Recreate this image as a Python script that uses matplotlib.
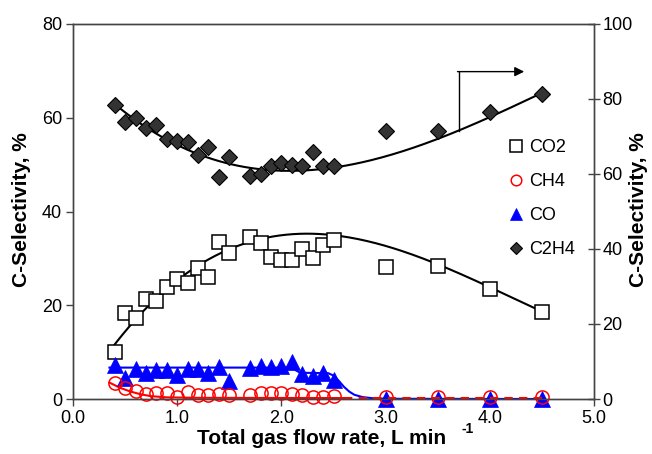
import numpy as np
import matplotlib
matplotlib.use("Agg")
import matplotlib.pyplot as plt

plt.rcParams['font.family'] = ['Liberation Sans', 'DejaVu Sans']

# ---------------- data ----------------
flow = [0.40, 0.50, 0.60, 0.70, 0.80, 0.90, 1.00, 1.10, 1.20, 1.30, 1.40, 1.50,
        1.70, 1.80, 1.90, 2.00, 2.10, 2.20, 2.30, 2.40, 2.50, 3.00, 3.50, 4.00, 4.50]

co2 = [10.1, 18.3, 17.2, 21.4, 21.0, 24.0, 25.6, 24.8, 27.9, 26.1, 33.5, 31.1,
       34.5, 33.2, 30.3, 29.6, 29.6, 32.0, 30.0, 32.8, 33.9, 28.2, 28.4, 23.4, 18.6]

ch4 = [3.4, 2.3, 1.8, 1.1, 1.2, 1.3, 0.4, 1.5, 0.85, 0.85, 1.0, 0.85,
       0.85, 1.2, 1.35, 1.35, 1.05, 0.85, 0.5, 0.5, 0.6, 0.4, 0.4, 0.4, 0.4]

co = [7.2, 4.4, 6.4, 5.5, 6.2, 6.2, 5.1, 6.5, 6.5, 5.5, 6.9, 3.8,
      6.7, 7.0, 6.8, 7.0, 7.9, 5.4, 5.0, 5.6, 4.1, 0.0, 0.0, 0.0, 0.0]

c2h4 = [78.4, 73.9, 74.9, 72.2, 73.1, 69.3, 68.9, 68.6, 65.1, 67.3, 59.1, 64.5,
        59.5, 60.0, 62.1, 63.0, 62.4, 62.1, 65.9, 62.1, 62.1, 71.5, 71.5, 76.6, 81.3]

# trend curves (smoothed with a cubic below)
co2_curve_x = [0.355, 1.00, 1.50, 2.18, 2.60, 3.00, 3.50, 4.00, 4.51]
co2_curve_y = [10.8, 24.3, 31.8, 36.4, 35.0, 32.1, 28.4, 23.7, 18.8]

c2h4_curve_x = [0.42, 1.00, 1.50, 2.00, 2.50, 3.00, 3.50, 4.00, 4.50]
c2h4_curve_y = [77.5, 69.1, 63.3, 59.3, 61.2, 65.2, 69.8, 75.4, 81.3]

co_fit_x = [0.35, 2.10, 2.14, 2.18, 2.45, 2.50, 2.55, 2.60, 2.65, 2.70, 2.78, 2.88, 3.00, 4.50]
co_fit_y = [6.7, 6.7, 6.1, 5.6, 5.5, 5.0, 3.9, 2.6, 1.6, 0.9, 0.4, 0.15, 0.05, 0.0]

ch4_fit_x = [0.35, 0.45, 0.55, 0.65, 0.75, 0.90, 1.20, 2.60]
ch4_fit_y = [3.5, 2.4, 1.6, 1.0, 0.6, 0.35, 0.25, 0.2]
ch4_tail_x = [2.60, 4.50]
ch4_tail_y = [0.2, 0.2]

x_ticks = [0.0, 1.0, 2.0, 3.0, 4.0, 5.0]
left_ticks = [0, 20, 40, 60, 80]
right_ticks = [0, 20, 40, 60, 80, 100]

# ---------------- figure ----------------
W, H = 652, 454
fig = plt.figure(figsize=(W / 100, H / 100), dpi=100)
ax = fig.add_axes([73/W, 1 - 399/H, 521/W, 375/H])
ax2 = ax.twinx()

# CO2 trend
p_co2 = np.polyfit(co2_curve_x, co2_curve_y, 3)
xs1 = np.linspace(co2_curve_x[0], co2_curve_x[-1], 200)
ax.plot(xs1, np.polyval(p_co2, xs1), color='black', lw=1.5, zorder=2)
# CO line
ax.plot(co_fit_x, co_fit_y, color='#0000ff', lw=1.5, zorder=2)
# CH4 line
ax.plot(ch4_fit_x, ch4_fit_y, color='#ff0000', lw=1.5, zorder=2)
ax.plot(ch4_tail_x, ch4_tail_y, color='#ff0000', lw=1.5, ls=(0, (4, 3)), zorder=4)

h_co2, = ax.plot(flow, co2, ls='none', marker='s', ms=10, mfc='white',
                 mec='black', mew=1.1, label='CO2', zorder=3)
h_co, = ax.plot(flow, co, ls='none', marker='^', ms=11, mfc='#0000ff',
                mec='#0000ff', mew=0.5, label='CO', zorder=3, clip_on=False)
h_ch4, = ax.plot(flow, ch4, ls='none', marker='o', ms=9.5, mfc='none',
                 mec='#ff0000', mew=1.1, label='CH4', zorder=3, clip_on=False)

# C2H4 on right axis
p_c2 = np.polyfit(c2h4_curve_x, c2h4_curve_y, 3)
xs2 = np.linspace(c2h4_curve_x[0], c2h4_curve_x[-1], 200)
ax2.plot(xs2, np.polyval(p_c2, xs2), color='black', lw=1.5, zorder=2)
h_c2, = ax2.plot(flow, c2h4, ls='none', marker='D', ms=8, mfc='#333333',
                 mec='black', mew=0.8, label='C2H4', zorder=3)

# arrow pointing to right axis
ax2.plot([3.70, 3.70], [float(np.polyval(p_c2, 3.70)), 87.3], color='black', lw=1)
ax2.annotate('', xy=(4.33, 87.3), xytext=(3.69, 87.3),
             arrowprops=dict(arrowstyle='-|>', color='black', lw=1,
                             mutation_scale=14, shrinkA=0, shrinkB=0))

ax.set_xlim(0, 5)
ax.set_ylim(0, 80)
ax2.set_ylim(0, 100)
ax.set_xticks(x_ticks)
ax.set_xticklabels([f'{v:.1f}' for v in x_ticks])
ax.set_yticks(left_ticks)
ax2.set_yticks(right_ticks)

for a in (ax, ax2):
    for s in a.spines.values():
        s.set_color('#444444')
        s.set_linewidth(1.0)
ax.tick_params(axis='both', direction='out', length=5, width=1, colors='#444444',
               labelcolor='black', labelsize=13, pad=3)
ax2.tick_params(axis='y', direction='inout', length=8, width=1, colors='#444444',
                labelcolor='black', labelsize=13, pad=2)

fig.text(22/W, 1 - 210/H, 'C-Selectivity, %', fontsize=15, fontweight='bold',
         rotation=90, ha='center', va='center')
fig.text(639/W, 1 - 210/H, 'C-Selectivity, %', fontsize=15, fontweight='bold',
         rotation=90, ha='center', va='center')
fig.text(197/W, 1 - 439/H, 'Total gas flow rate, L min', fontsize=15, fontweight='bold',
         ha='left', va='center')
fig.text(462/W, 1 - 429/H, '-1', fontsize=10, fontweight='bold', ha='left', va='center')

leg = ax2.legend(handles=[h_co2, h_ch4, h_co, h_c2], loc='upper left',
                 bbox_to_anchor=(500/W, 1 - 130/H), bbox_transform=fig.transFigure,
                 frameon=False, fontsize=13, markerscale=0.8, handlelength=0.8,
                 handletextpad=0.3, labelspacing=0.95, borderpad=0)

fig.savefig('out.png', dpi=100)
